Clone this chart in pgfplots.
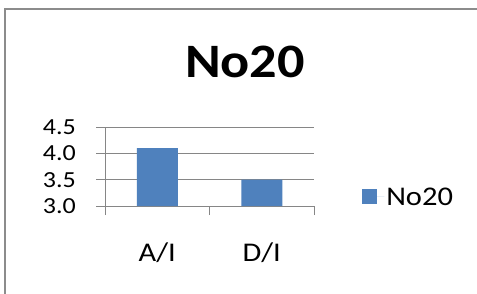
\documentclass[border=0pt]{standalone}
\usepackage{fontspec}
\setmainfont{Carlito}[FakeStretch=1.13]
\usepackage{pgfplots}
\pgfplotsset{compat=1.18}
\definecolor{barblue}{RGB}{79,129,189}
\definecolor{gridgray}{RGB}{134,134,134}
\definecolor{framegray}{RGB}{140,140,140}
\begin{document}
\begin{tikzpicture}[x=1bp,y=1bp]
\clip (0,0) rectangle (477,293);
\fill[white] (0,0) rectangle (477,293);
\draw[framegray, line width=2.5bp] (5,-10) -- (5,284) -- (490,284);
\node[font=\fontsize{48bp}{50bp}\selectfont\bfseries] at (245,231) {No20};
\begin{axis}[
  at={(105bp,87bp)}, anchor=south west,
  scale only axis, width=209bp, height=79bp,
  xmin=-0.5, xmax=1.5, ymin=3, ymax=4.5,
  axis x line*=bottom, axis y line*=left,
  axis line style={gridgray, line width=1bp},
  ytick={3,3.5,4,4.5},
  ymajorgrids, grid style={gridgray, line width=1bp},
  tick align=outside, major tick length=9bp,
  tick style={gridgray, line width=1bp},
  xtick={-0.5,0.5,1.5}, xticklabels={},
  extra x ticks={0,1}, extra x tick labels={A/I,D/I},
  extra x tick style={major tick length=0pt, grid=none,
    xticklabel style={anchor=center, yshift=-47bp}},
  yticklabel style={font=\fontsize{23bp}{23bp}\selectfont, anchor=east, inner sep=0pt, xshift=-20bp},
  xticklabel style={font=\fontsize{27bp}{27bp}\selectfont},
  /pgf/number format/.cd, fixed, fixed zerofill, precision=1, assume math mode=true,
  /pgfplots/.cd,
  legend style={at={(1.23,0.114)}, anchor=west, draw=none, fill=none,
    font=\fontsize{27bp}{28bp}\selectfont, inner sep=0pt},
  legend image code/.code={\fill[barblue] (0bp,-7.5bp) rectangle (15bp,7.5bp);\path (0bp,0bp) -- (22bp,0bp);},
]
\addplot[ybar, bar width=41bp, fill=barblue, draw=none] coordinates {(0,4.1) (1,3.5)};
\addlegendentry{No20}
\end{axis}
\end{tikzpicture}
\end{document}
